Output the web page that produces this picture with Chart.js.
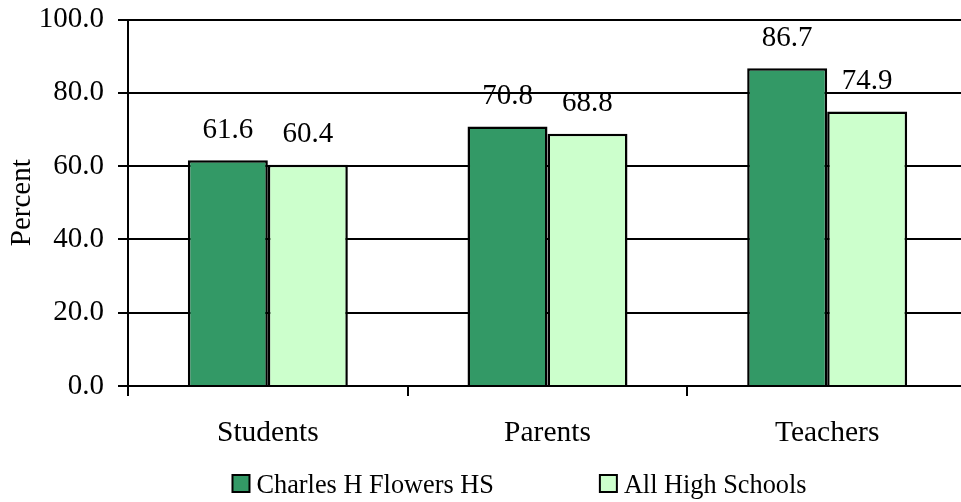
<!DOCTYPE html>
<html>
<head>
<meta charset="utf-8">
<script src="https://cdn.jsdelivr.net/npm/chart.js@4/dist/chart.umd.min.js"></script>
<style>
  html, body { margin: 0; padding: 0; background: #fff; overflow: hidden; }
  #wrap { width: 980px; height: 502px; }
</style>
</head>
<body>
<div id="wrap"><canvas id="chart" width="980" height="502"></canvas></div>
<script>
const categories = ["Students", "Parents", "Teachers"];
const flowersHS = [61.6, 70.8, 86.7];
const allHighSchools = [60.4, 68.8, 74.9];
const yTicks = [0, 20, 40, 60, 80, 100];
const seriesNames = ["Charles H Flowers HS", "All High Schools"];
const seriesColors = ["#339966", "#CCFFCC"];

const serif = "'Liberation Serif', 'Times New Roman', serif";

// value labels above bars
const valueLabels = {
    id: "valueLabels",
    afterDatasetsDraw(chart) {
        const ctx = chart.ctx;
        ctx.save();
        ctx.font = `29px ${serif}`;
        ctx.fillStyle = "#000";
        ctx.textAlign = "center";
        ctx.textBaseline = "alphabetic";
        chart.data.datasets.forEach((ds, i) => {
            chart.getDatasetMeta(i).data.forEach((bar, j) => {
                ctx.fillText(ds.data[j].toFixed(1), bar.x, bar.y - 22.5);
            });
        });
        ctx.restore();
    }
};

// legend under the axis
const bottomLegend = {
    id: "bottomLegend",
    afterDraw(chart) {
        const ctx = chart.ctx;
        ctx.save();
        ctx.font = `26.3px ${serif}`;
        const box = 17, gap = 7, spacing = 106;
        const widths = chart.data.datasets.map(ds => box + gap + ctx.measureText(ds.label).width);
        const total = widths.reduce((a, b) => a + b, 0) + spacing * (widths.length - 1);
        let x = 519.5 - total / 2;
        const yMid = 483.5;
        chart.data.datasets.forEach((ds, i) => {
            ctx.fillStyle = ds.backgroundColor;
            ctx.fillRect(x, yMid - box / 2, box, box);
            ctx.lineWidth = 2;
            ctx.strokeStyle = "#000";
            ctx.strokeRect(x, yMid - box / 2, box, box);
            ctx.fillStyle = "#000";
            ctx.textAlign = "left";
            ctx.textBaseline = "alphabetic";
            ctx.fillText(ds.label, x + box + gap, 493);
            x += widths[i] + spacing;
        });
        ctx.restore();
    }
};

new Chart(document.getElementById("chart"), {
    type: "bar",
    data: {
        labels: categories,
        datasets: [
            { label: seriesNames[0], data: flowersHS, backgroundColor: seriesColors[0] },
            { label: seriesNames[1], data: allHighSchools, backgroundColor: seriesColors[1] }
        ]
    },
    options: {
        responsive: false,
        animation: false,
        devicePixelRatio: 1,
        layout: { padding: { left: 0, right: 13, top: 19.5, bottom: 0 } },
        datasets: {
            bar: {
                categoryPercentage: 0.572,
                barPercentage: 1,
                borderColor: "#000",
                borderWidth: 2.5
            }
        },
        plugins: {
            legend: { display: false },
            tooltip: { enabled: false }
        },
        scales: {
            x: {
                afterFit: s => {
                    s.height = 116;
                    s.paddingLeft = 0; s.paddingRight = 0;
                },
                grid: {
                    offset: true,
                    drawOnChartArea: false,
                    drawTicks: true,
                    tickLength: 10,
                    color: "#000",
                    lineWidth: 2
                },
                border: { display: true, color: "#000", width: 2 },
                ticks: {
                    color: "#000",
                    padding: 20,
                    maxRotation: 0,
                    font: { family: serif, size: 29.5 }
                }
            },
            y: {
                min: 0,
                max: 100,
                afterFit: s => {
                    s.width = 128;
                    s.paddingTop = 0; s.paddingBottom = 0;
                },
                afterBuildTicks: s => { s.ticks = yTicks.map(v => ({ value: v })); },
                grid: {
                    color: "#000",
                    lineWidth: 2,
                    tickLength: 10
                },
                border: { display: true, color: "#000", width: 2 },
                ticks: {
                    color: "#000",
                    padding: 14,
                    font: { family: serif, size: 29 },
                    callback: v => Number(v).toFixed(1)
                },
                title: {
                    display: true,
                    text: "Percent",
                    color: "#000",
                    padding: { top: 5, bottom: 0 },
                    font: { family: serif, size: 29, lineHeight: 1.2 }
                }
            }
        }
    },
    plugins: [valueLabels, bottomLegend]
});
</script>
</body>
</html>
